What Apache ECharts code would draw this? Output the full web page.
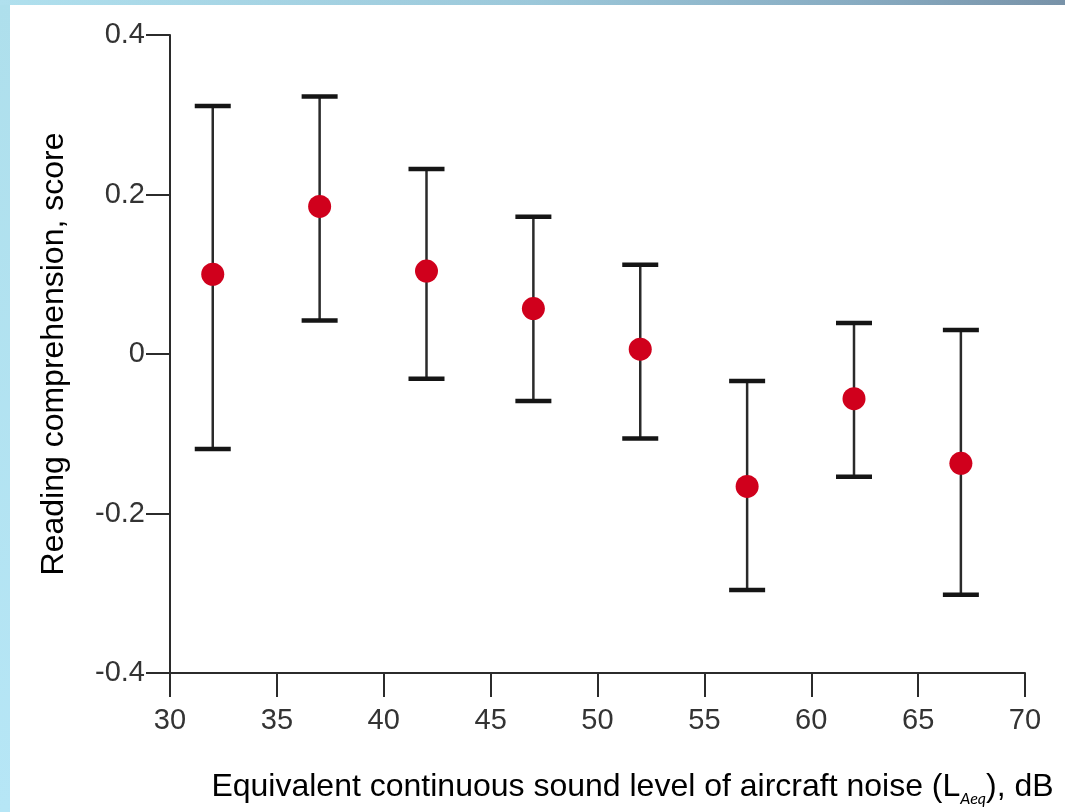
<!DOCTYPE html>
<html>
<head>
<meta charset="utf-8">
<script src="https://cdn.jsdelivr.net/npm/echarts@6/dist/echarts.min.js"></script>
<style>
html,body{margin:0;padding:0;background:#fff;}
#chart{width:1065px;height:812px;}
</style>
</head>
<body>
<div id="chart"></div>
<script>
// Data
var noiseLevels = [32, 37, 42, 47, 52, 57, 62, 67];
var meanScores  = [0.100, 0.185, 0.104, 0.057, 0.006, -0.166, -0.056, -0.137];
var upperScores = [0.311, 0.323, 0.232, 0.172, 0.112, -0.034, 0.039, 0.030];
var lowerScores = [-0.119, 0.042, -0.031, -0.059, -0.106, -0.296, -0.154, -0.302];
var xTicks = [30, 35, 40, 45, 50, 55, 60, 65, 70];
var yTicks = [-0.4, -0.2, 0, 0.2, 0.4];

var errorData = noiseLevels.map(function (x, i) { return [x, lowerScores[i], upperScores[i]]; });
var pointData = noiseLevels.map(function (x, i) { return [x, meanScores[i]]; });

var chart = echarts.init(document.getElementById('chart'), null, { renderer: 'canvas' });
var axisColor = '#2b2b2b';
var font = '"Liberation Sans", Arial, sans-serif';

chart.setOption({
  backgroundColor: '#ffffff',
  animation: false,
  graphic: [
    { type: 'rect', left: 0, top: 0, shape: { width: 10, height: 812 },
      style: { fill: new echarts.graphic.LinearGradient(0, 0, 0, 1, [
        { offset: 0, color: '#aedfec' }, { offset: 1, color: '#b6e6f6' }]) }, z: 100 },
    { type: 'rect', left: 0, top: 0, shape: { width: 1065, height: 5 },
      style: { fill: new echarts.graphic.LinearGradient(0, 0, 1, 0, [
        { offset: 0, color: '#b0e0ee' }, { offset: 0.5, color: '#9cc8da' },
        { offset: 0.8, color: '#88acc2' }, { offset: 1, color: '#7892a8' }]) }, z: 100 }
  ],
  grid: { left: 170, right: 40, top: 35, bottom: 139, outerBoundsMode: 'none' },
  xAxis: {
    type: 'value',
    min: xTicks[0], max: xTicks[xTicks.length - 1], interval: 5,
    name: 'Equivalent continuous sound level of aircraft noise (L{sub|Aeq}), dB',
    nameLocation: 'middle',
    nameGap: 94,
    nameTextStyle: {
      color: '#000', fontSize: 32, fontFamily: font, padding: [0, 0, 0, 70], lineHeight: 40,
      rich: {
        sub: { fontSize: 16, fontStyle: 'italic', fontFamily: 'Lato, "Open Sans", sans-serif',
               color: '#000', verticalAlign: 'bottom', lineHeight: 16 }
      }
    },
    axisLine: { show: true, onZero: false, lineStyle: { color: axisColor, width: 2 } },
    axisTick: { show: true, length: 24, lineStyle: { color: axisColor, width: 2 } },
    axisLabel: { color: '#333', fontSize: 29, fontFamily: font, margin: 33 },
    splitLine: { show: false }
  },
  yAxis: {
    type: 'value',
    min: yTicks[0], max: yTicks[yTicks.length - 1], interval: 0.2,
    name: 'Reading comprehension, score',
    nameLocation: 'middle',
    nameGap: 100,
    nameTextStyle: { color: '#000', fontSize: 32, fontFamily: font },
    axisLine: { show: true, onZero: false, lineStyle: { color: axisColor, width: 2 } },
    axisTick: { show: true, length: 24, lineStyle: { color: axisColor, width: 2 } },
    axisLabel: { color: '#333', fontSize: 29, fontFamily: font, margin: 25,
      formatter: function (v) { return String(Math.round(v * 10) / 10); } },
    splitLine: { show: false }
  },
  series: [
    {
      type: 'custom',
      data: errorData,
      encode: { x: 0, y: [1, 2] },
      z: 2,
      renderItem: function (params, api) {
        var x = api.value(0), lo = api.value(1), hi = api.value(2);
        var pHi = api.coord([x, hi]);
        var pLo = api.coord([x, lo]);
        var hw = 18;
        return {
          type: 'group',
          children: [
            { type: 'line', shape: { x1: pHi[0], y1: pHi[1], x2: pLo[0], y2: pLo[1] },
              style: { stroke: '#2a2a2a', lineWidth: 2.5 } },
            { type: 'line', shape: { x1: pHi[0] - hw, y1: pHi[1], x2: pHi[0] + hw, y2: pHi[1] },
              style: { stroke: '#151515', lineWidth: 4.5 } },
            { type: 'line', shape: { x1: pLo[0] - hw, y1: pLo[1], x2: pLo[0] + hw, y2: pLo[1] },
              style: { stroke: '#151515', lineWidth: 4.5 } }
          ]
        };
      }
    },
    {
      type: 'scatter',
      data: pointData,
      symbol: 'circle',
      symbolSize: 23,
      z: 3,
      itemStyle: { color: '#d0001c', opacity: 1 }
    }
  ]
});
</script>
</body>
</html>
